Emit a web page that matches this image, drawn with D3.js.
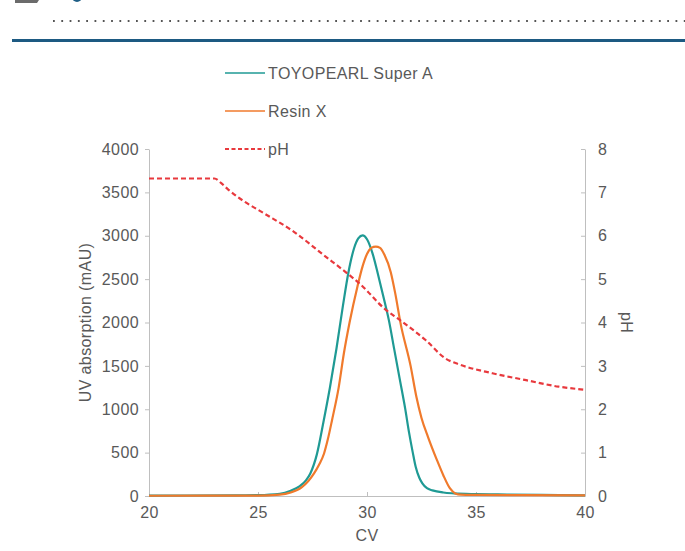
<!DOCTYPE html>
<html>
<head>
<meta charset="utf-8">
<script src="https://cdn.jsdelivr.net/npm/d3@7"></script>
<style>
    body { margin: 0; background: #fff; }
    svg { display: block; font-family: "Liberation Sans", Arial, sans-serif; }
    .tick text { fill: #595959; font-size: 16px; letter-spacing: 0.4px; }
    .lbl { fill: #595959; font-size: 16px; letter-spacing: 0.4px; }
</style>
</head>
<body>
<div id="chart"></div>
<script>
// column volumes (CV) and UV signal (mAU)
var superA_cv = [20, 24, 25, 26, 26.5, 26.9, 27.2, 27.4, 27.7, 28.0, 28.3, 28.6, 28.9, 29.15, 29.4, 29.6, 29.8, 30.0, 30.25, 30.5, 30.75, 31.0, 31.25, 31.5, 31.75, 31.93, 32.1, 32.23, 32.4, 32.54, 32.75, 33.0, 33.5, 34, 35, 36, 38, 40];
var superA_uv = [5, 8, 10, 25, 60, 110, 180, 260, 480, 850, 1250, 1700, 2200, 2580, 2850, 2970, 3005, 2960, 2800, 2560, 2300, 2030, 1690, 1350, 1010, 730, 500, 340, 210, 146, 90, 65, 40, 30, 22, 18, 12, 8];

var resinX_cv = [20, 25, 26, 26.5, 27.0, 27.3, 27.57, 27.8, 28.03, 28.2, 28.4, 28.7, 28.94, 29.2, 29.56, 29.8, 30.0, 30.2, 30.4, 30.6, 30.8, 31.09, 31.3, 31.54, 32.0, 32.26, 32.5, 32.8, 33.2, 33.5, 33.8, 34.05, 34.3, 35, 37, 40];
var resinX_uv = [3, 5, 15, 40, 100, 170, 260, 360, 490, 650, 880, 1250, 1645, 2000, 2413, 2650, 2790, 2860, 2875, 2860, 2780, 2580, 2330, 1990, 1500, 1150, 900, 680, 420, 240, 90, 30, 15, 12, 9, 7];

var ph_cv = [20, 23.0, 23.3, 23.6, 24.0, 24.4, 25.3, 26.65, 28.0, 29.1, 29.7, 30.8, 31.5, 32.7, 33.6, 34.2, 35.75, 37.3, 38.8, 40];
var ph_val = [7.32, 7.32, 7.22, 7.08, 6.92, 6.78, 6.51, 6.09, 5.56, 5.13, 4.88, 4.32, 4.06, 3.59, 3.17, 3.04, 2.83, 2.67, 2.52, 2.45];

var cvTicks = [20, 25, 30, 35, 40];
var uvTicks = [0, 500, 1000, 1500, 2000, 2500, 3000, 3500, 4000];
var phTicks = [0, 1, 2, 3, 4, 5, 6, 7, 8];

var seriesNames = ["TOYOPEARL Super A", "Resin X", "pH"];
var seriesColors = ["#1f9a94", "#f07a2c", "#e8393d"];

var W = 685, H = 551;
var plotLeft = 149, plotRight = 585, plotTop = 149, plotBottom = 496;

var svg = d3.select("#chart").append("svg").attr("width", W).attr("height", H);

// header bits of the page, cut by the top edge
svg.append("path").attr("d", "M15,0 L39,0 L37,3 L15,3 Z").attr("fill", "#6b6b6b");
svg.append("circle").attr("cx", 77).attr("cy", -3).attr("r", 5).attr("fill", "#1f5f86");
svg.append("line").attr("x1", 53).attr("x2", W).attr("y1", 21).attr("y2", 21)
    .attr("stroke", "#555").attr("stroke-width", 2)
    .attr("stroke-dasharray", "1.8,6.5").attr("stroke-linecap", "butt");
svg.append("rect").attr("x", 12).attr("y", 39).attr("width", W - 12).attr("height", 3).attr("fill", "#1d5a82");

var x = d3.scaleLinear().domain([20, 40]).range([plotLeft, plotRight]);
var yUV = d3.scaleLinear().domain([0, 4000]).range([plotBottom, plotTop]);
var yPH = d3.scaleLinear().domain([0, 8]).range([plotBottom, plotTop]);

function styleAxis(g) {
    g.select(".domain").attr("stroke", "#bfbfbf");
    g.selectAll(".tick line").attr("stroke", "#bfbfbf");
}

svg.append("g").attr("transform", "translate(0," + plotBottom + ")")
    .call(d3.axisBottom(x).tickValues(cvTicks).tickSize(-4).tickSizeOuter(0).tickPadding(8))
    .call(styleAxis)
    .call(function(g) { g.selectAll("text").attr("dy", "0.85em"); });

svg.append("g").attr("transform", "translate(" + plotLeft + ",0)")
    .call(d3.axisLeft(yUV).tickValues(uvTicks).tickFormat(d3.format("d")).tickSize(4).tickSizeOuter(0).tickPadding(6))
    .call(styleAxis);

svg.append("g").attr("transform", "translate(" + plotRight + ",0)")
    .call(d3.axisRight(yPH).tickValues(phTicks).tickSize(-4).tickSizeOuter(0).tickPadding(13))
    .call(styleAxis);

// axis titles
svg.append("text").attr("class", "lbl").attr("text-anchor", "middle")
    .attr("x", (plotLeft + plotRight) / 2).attr("y", 541).text("CV");
svg.append("text").attr("class", "lbl").attr("text-anchor", "middle")
    .attr("transform", "translate(91," + ((plotTop + plotBottom) / 2) + ") rotate(-90)").text("UV absorption (mAU)");
svg.append("text").attr("class", "lbl").attr("text-anchor", "middle")
    .attr("transform", "translate(621," + ((plotTop + plotBottom) / 2) + ") rotate(90)").text("pH");

// curves
var lineUV = d3.line().x(function(d) { return x(d[0]); }).y(function(d) { return yUV(d[1]); }).curve(d3.curveMonotoneX);
var linePH = d3.line().x(function(d) { return x(d[0]); }).y(function(d) { return yPH(d[1]); }).curve(d3.curveMonotoneX);

svg.append("path").datum(d3.zip(superA_cv, superA_uv))
    .attr("d", lineUV).attr("fill", "none").attr("stroke", seriesColors[0]).attr("stroke-width", 2.2);
svg.append("path").datum(d3.zip(resinX_cv, resinX_uv))
    .attr("d", lineUV).attr("fill", "none").attr("stroke", seriesColors[1]).attr("stroke-width", 2.2);
svg.append("path").datum(d3.zip(ph_cv, ph_val))
    .attr("d", linePH).attr("fill", "none").attr("stroke", seriesColors[2]).attr("stroke-width", 2.2)
    .attr("stroke-dasharray", "5,3");

// legend
var legend = svg.append("g").selectAll("g").data(seriesNames).enter().append("g")
    .attr("transform", function(d, i) { return "translate(225," + (73 + i * 38) + ")"; });
legend.append("line").attr("x1", 0).attr("x2", 40)
    .attr("stroke", function(d, i) { return seriesColors[i]; })
    .attr("stroke-width", function(d, i) { return i == 2 ? 2 : 1.6; })
    .attr("stroke-dasharray", function(d, i) { return i == 2 ? "4,2.5" : null; });
legend.append("text").attr("class", "lbl").attr("x", 43).attr("dy", "0.35em").text(function(d) { return d; });
</script>
</body>
</html>
